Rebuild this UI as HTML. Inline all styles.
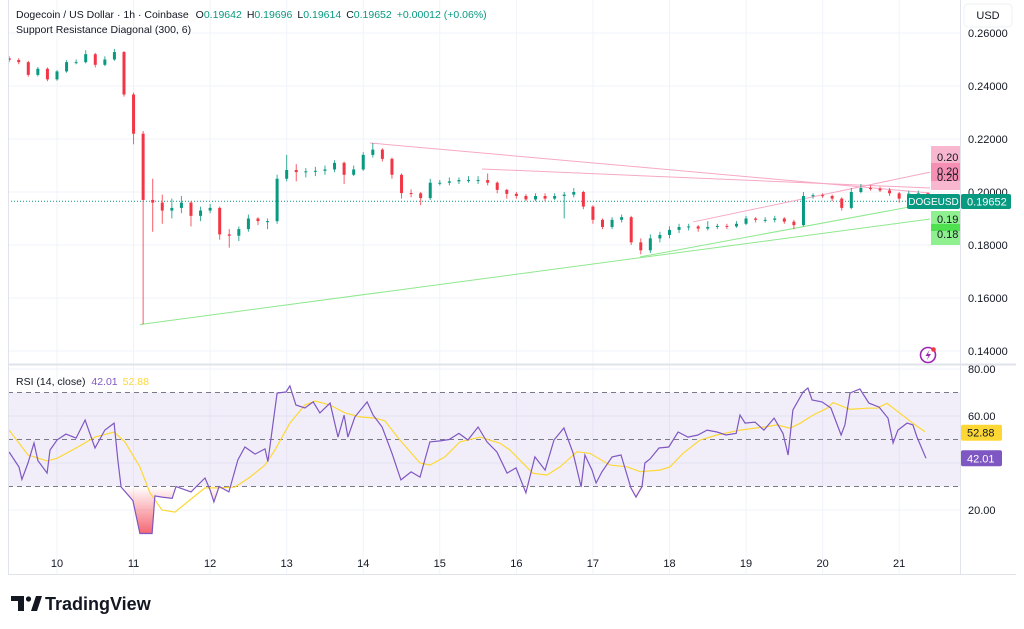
<!DOCTYPE html>
<html><head><meta charset="utf-8"><style>
html,body{margin:0;padding:0;background:#fff;width:1024px;height:629px;overflow:hidden;font-family:"Liberation Sans",sans-serif;}
svg text{font-family:"Liberation Sans",sans-serif;}
</style></head><body>
<svg id="chart" width="1024" height="629" viewBox="0 0 1024 629" xmlns="http://www.w3.org/2000/svg">
<defs>
<linearGradient id="osGrad" x1="0" y1="486.5" x2="0" y2="533" gradientUnits="userSpaceOnUse">
<stop offset="0" stop-color="#f23645" stop-opacity="0"/><stop offset="1" stop-color="#f23645" stop-opacity="0.75"/></linearGradient>
<clipPath id="belowOS"><rect x="8" y="486.5" width="952" height="60"/></clipPath>
<clipPath id="mainClip"><rect x="8" y="0" width="952" height="363"/></clipPath>
</defs>
<g id="grid"></g>
<g id="main" clip-path="url(#mainClip)"></g>
<g id="rsi"></g>
<g id="axes"></g>

<text x="16" y="18" font-size="10.5" fill="#131722">Dogecoin / US Dollar · 1h · Coinbase <tspan dx="4">O</tspan><tspan fill="#089981">0.19642</tspan><tspan dx="5">H</tspan><tspan fill="#089981">0.19696</tspan><tspan dx="5">L</tspan><tspan fill="#089981">0.19614</tspan><tspan dx="5">C</tspan><tspan fill="#089981">0.19652</tspan><tspan dx="5" fill="#089981">+0.00012 (+0.06%)</tspan></text>
<text x="16" y="33" font-size="10.5" fill="#131722">Support Resistance Diagonal (300, 6)</text>
<text x="16" y="385" font-size="10.5" fill="#131722">RSI (14, close) <tspan dx="3" fill="#7e57c2">42.01</tspan><tspan dx="5" fill="#fdd835">52.88</tspan></text>

<g>
<rect x="964" y="4" width="48" height="23" rx="4" fill="#fff" stroke="#eef0f4"/>
<text x="988" y="19" font-size="11" text-anchor="middle" fill="#131722">USD</text></g>

<g>
<circle cx="928" cy="355" r="7.5" fill="none" stroke="#9c27b0" stroke-width="1.6"/>
<path d="M929.5 350 L925.5 356 L928.5 356 L926.5 360.5 L931 354 L928 354 Z" fill="#9c27b0"/>
<circle cx="933.5" cy="349.5" r="2.3" fill="#f23645"/></g>

<g>
<path d="M11 596 H24 V611 H18 V601 H11 Z" fill="#131722"/>
<circle cx="28.5" cy="599" r="2.6" fill="#131722"/>
<path d="M31 611 L36 596 H42 L37 611 Z" fill="#131722"/>
<text x="45" y="610" font-size="18" font-weight="bold" fill="#131722">TradingView</text></g>

<script>
const days=[10,11,12,13,14,15,16,17,18,19,20,21];
const priceTicks=[0.26,0.24,0.22,0.20,0.18,0.16,0.14];
const rsiTicks=[80,60,20];
const closes=[0.2498,0.249,0.2442,0.2465,0.2425,0.2455,0.249,0.249,0.252,0.248,0.25,0.2528,0.2368,0.222,0.197,0.196,0.193,0.194,0.196,0.191,0.193,0.194,0.184,0.1835,0.186,0.19,0.189,0.189,0.205,0.2083,0.2075,0.2078,0.208,0.2085,0.211,0.2065,0.2085,0.214,0.216,0.2125,0.2065,0.1996,0.1995,0.1977,0.2035,0.2035,0.204,0.2045,0.2045,0.2045,0.2035,0.2008,0.1993,0.1985,0.1972,0.1985,0.1975,0.1985,0.199,0.2,0.1945,0.1895,0.1868,0.1895,0.1905,0.181,0.178,0.1825,0.1838,0.1857,0.1868,0.187,0.1862,0.1868,0.1872,0.187,0.188,0.19,0.1895,0.1895,0.19,0.1888,0.1875,0.1985,0.1988,0.1985,0.1975,0.194,0.2,0.2015,0.2012,0.2006,0.1995,0.1975,0.1994,0.1995,0.19652];
const highs=[0.2512,0.2505,0.2495,0.2472,0.247,0.246,0.2498,0.25,0.2535,0.2525,0.2512,0.254,0.2532,0.2375,0.223,0.205,0.199,0.1975,0.1985,0.1965,0.1945,0.1955,0.1945,0.186,0.187,0.1915,0.1905,0.19,0.2065,0.214,0.2105,0.209,0.2095,0.21,0.212,0.2115,0.21,0.215,0.2185,0.2165,0.213,0.207,0.201,0.2,0.205,0.2045,0.2055,0.2055,0.206,0.206,0.207,0.204,0.2012,0.2,0.1992,0.1995,0.1995,0.1995,0.2,0.2015,0.2005,0.195,0.19,0.1905,0.1915,0.191,0.1825,0.184,0.185,0.187,0.188,0.188,0.1875,0.189,0.188,0.188,0.189,0.191,0.1905,0.1905,0.191,0.1905,0.1895,0.2,0.1995,0.1995,0.199,0.198,0.2015,0.203,0.2025,0.202,0.2015,0.2,0.2005,0.2005,0.1998];
const lows=[0.249,0.2482,0.2435,0.2436,0.2418,0.242,0.245,0.2482,0.2485,0.247,0.2475,0.2495,0.236,0.218,0.15,0.185,0.188,0.19,0.192,0.187,0.189,0.192,0.182,0.179,0.1815,0.185,0.1875,0.186,0.188,0.204,0.204,0.2055,0.206,0.2065,0.2075,0.203,0.206,0.208,0.213,0.2115,0.205,0.1975,0.198,0.195,0.197,0.2025,0.2025,0.203,0.2035,0.203,0.2025,0.1995,0.1975,0.1975,0.1965,0.1965,0.1965,0.197,0.19,0.198,0.1935,0.188,0.186,0.186,0.1885,0.18,0.1765,0.177,0.181,0.1825,0.1845,0.1855,0.185,0.1855,0.186,0.186,0.1865,0.1875,0.1885,0.1885,0.1885,0.188,0.186,0.187,0.1975,0.1978,0.1965,0.193,0.1935,0.1995,0.2005,0.2,0.1985,0.196,0.197,0.1985,0.1961];
const firstOpen=0.2505;
const rsiHours=[-15,-11.9,-11,-9.1,-7.2,-6,-3.1,-2.2,0,2.8,6,8.8,11.9,15,17.9,19.1,20.1,23.8,26,29.8,30.7,32.9,36.1,37.3,42,44.8,46.4,48,49.2,50.8,53.9,56.7,58.9,62.1,65.2,66.1,69,71.8,73,74.9,77.7,80.3,82.4,85.6,88.1,90,91.2,93.4,95.9,97.2,99.1,101.9,105,107.8,111,113.8,116.9,120.1,122.9,126,128.8,132,134.8,137.9,141.1,143.9,147,149.8,153,155.8,158.9,161.8,164.3,165.5,167.7,169,170.8,174,176.8,179.9,181.5,183.4,184.3,185.9,188.7,191.8,194.7,197.8,200.9,203.8,206.9,209.7,212.9,214.1,215.7,218.8,221.6,224.8,227.6,229.2,230.7,233.9,235.4,236.7,239.8,242.6,245.8,247,248.6,251.7,254.5,257.7,260.5,262.1,263.6,266.5,268.3,269.6,272.4];
const rsiValues=[44.7,38.3,33,40,48.5,41,35.7,45.5,49.8,52.3,50.6,58.3,46.4,54,57,41,29.8,24,10,10,26,25.5,25,30,27.7,31.5,33.6,28.5,23.4,30,27.7,41.3,46.8,43.8,46,40.6,69.8,70.2,72.8,64.7,63.4,66,61.3,65.5,51,60.4,51,59.6,63.8,66,60.4,55.3,44.2,32.8,36.2,34,49,49.4,50,52.6,49.8,55.3,49,44.7,35.7,37.9,27.3,42.6,37,49.8,54.9,44.2,29.8,43.4,37,31.5,36.2,42.6,43.4,29.4,25.5,30,40,41.7,46.4,46.8,53.2,51,51.9,54,53.2,51.9,52.6,60.4,57,57.4,54,59.1,52.6,43.4,62.6,70.2,71.9,66.8,66,63.4,51.9,56.2,69.8,71.5,65.5,63.8,59.1,48.5,54,57,56.2,51,42];
const maHours=[-15,-9.1,-3.1,0,6,11.9,17.9,21.3,26,29.2,32.9,37,41.7,46.4,51.1,55.8,60.5,65.2,68.3,73,77.7,80.9,85.6,90.3,95,99.7,102.8,107.5,113.8,116.9,121.6,126.3,132.6,138.9,142,149.2,153.6,157.7,163,167.1,173.4,178.7,182.8,189,192.2,196.2,201.6,206.9,214.1,222.6,225.7,229.8,232.9,237,241.4,243.3,248.6,253.9,257.1,260.2,264.3,268.3,272.1];
const maValues=[54,43.4,40.9,42,46.4,51,53.2,49,38.3,27.2,20,19.1,24.3,29.4,29.4,29.8,34,39.1,45.5,57,64.7,66.4,64.7,61.3,59.6,59.1,57.9,49.8,40,39.1,42.6,49,51,48.4,45.5,35.6,34.9,38.4,44.8,44.1,39.1,38.4,36.3,37,38.4,44.1,49.8,51.9,54,55.5,56.2,54.8,56.9,60.4,63.3,65.7,62.8,63.3,63.3,65.4,61.1,56.9,53.3];
const resistLines=[[98.1,0.2185,273.7,0.1996],[133.2,0.2087,273.7,0.2015],[199.4,0.1887,273.7,0.2075]];
const supportLines=[[26,0.150,273.7,0.1898],[182.8,0.1755,273.7,0.1958]];
const lastPrice=0.19652, lastRsi=42.01, lastMa=52.88;

const NS='http://www.w3.org/2000/svg';
const xT=t=>57+t*3.19;
const yP=p=>192-(p-0.2)*2650;
const yR=v=>416-(v-60)*2.35;
function mk(tag,attrs,parent){const e=document.createElementNS(NS,tag);for(const k in attrs)e.setAttribute(k,attrs[k]);parent.appendChild(e);return e;}
const grid=document.getElementById('grid'),main=document.getElementById('main'),rsi=document.getElementById('rsi'),axes=document.getElementById('axes');

days.forEach(d=>{const x=xT((d-10)*24);
 const l=mk('line',{x1:x,x2:x,y1:0,y2:575,stroke:'#f0f3fa'},grid);
 
 
 const t=mk('text',{x:x,y:567,'font-size':11,'text-anchor':'middle',fill:'#131722'},axes);t.textContent=d;
 
 });
priceTicks.forEach(p=>{const y=yP(p);
 const l=mk('line',{x1:8,x2:960,y1:y,y2:y,stroke:'#f0f3fa'},grid);
 
 
 const t=mk('text',{x:968,y:y+4,'font-size':11,fill:'#131722'},axes);t.textContent=p.toFixed(5);
 
 });
[80,60,40,20].forEach(v=>{const y=yR(v);const l=mk('line',{x1:8,x2:960,y1:y,y2:y,stroke:'#f0f3fa'},grid);
 
 });
rsiTicks.forEach(v=>{const t=mk('text',{x:968,y:yR(v)+4,'font-size':11,fill:'#131722'},axes);t.textContent=v.toFixed(2);
 
 });
mk('line',{x1:8,x2:1016,y1:364.5,y2:364.5,stroke:'#e0e3eb','stroke-width':2},axes);
mk('line',{x1:8,x2:1016,y1:574.5,y2:574.5,stroke:'#e0e3eb'},axes);
mk('line',{x1:8.5,x2:8.5,y1:0,y2:575,stroke:'#e0e3eb'},axes);
mk('line',{x1:960.5,x2:960.5,y1:0,y2:575,stroke:'#e0e3eb'},axes);

const dl=mk('line',{x1:8,x2:906,y1:yP(lastPrice),y2:yP(lastPrice),stroke:'#089981','stroke-dasharray':'1 2'},main);



resistLines.forEach(r=>{const l=mk('line',{x1:xT(r[0]),y1:yP(r[1]),x2:xT(r[2]),y2:yP(r[3]),stroke:'#f7a8c4','stroke-width':1},main);
 
 });
supportLines.forEach(r=>{const l=mk('line',{x1:xT(r[0]),y1:yP(r[1]),x2:xT(r[2]),y2:yP(r[3]),stroke:'#8fe88f','stroke-width':1},main);
 
 });

closes.forEach((c,i)=>{const o=i?closes[i-1]:firstOpen;const x=xT(-15+3*i);const up=c>=o;const col=up?'#089981':'#f23645';
 const g=mk('g',{},main);
 
 
 mk('line',{x1:x,x2:x,y1:yP(highs[i]),y2:yP(lows[i]),stroke:col,'stroke-width':1,'stroke-opacity':0.8},g);
 const top=yP(Math.max(o,c)),bot=yP(Math.min(o,c));
 mk('rect',{x:x-1.5,y:top,width:3,height:Math.max(1,bot-top),fill:col},g);});

const pb=mk('g',{},axes);


mk('rect',{x:931,y:146,width:29,height:44,fill:'#f8b7ce'},pb);
mk('rect',{x:931,y:163,width:29,height:18,fill:'#f68fb4'},pb);
[[157,'0.20'],[171,'0.20'],[177,'0.20']].forEach(a=>{const t=mk('text',{x:937,y:a[0]+4,'font-size':11,fill:'#131722'},pb);t.textContent=a[1];});
const gb=mk('g',{},axes);


mk('rect',{x:931,y:211,width:29,height:34,fill:'#8ff08f'},gb);
mk('rect',{x:931,y:224,width:29,height:7,fill:'#4fe04f'},gb);
[[219,'0.19'],[234,'0.18']].forEach(a=>{const t=mk('text',{x:937,y:a[0]+4,'font-size':11,fill:'#131722'},gb);t.textContent=a[1];});
const sl=mk('g',{},axes);


mk('rect',{x:907,y:194,width:53,height:15,fill:'#089981',rx:2},sl);
let tt=mk('text',{x:933.5,y:205,'font-size':10,fill:'#fff','text-anchor':'middle'},sl);tt.textContent='DOGEUSD';
mk('rect',{x:961,y:194,width:50,height:15,fill:'#089981',rx:2},sl);
tt=mk('text',{x:967,y:205.5,'font-size':11,fill:'#fff'},sl);tt.textContent=lastPrice.toFixed(5);

const band=mk('rect',{x:8,y:yR(70),width:952,height:yR(30)-yR(70),fill:'#7e57c2','fill-opacity':0.1},rsi);


[70,50,30].forEach(v=>{const l=mk('line',{x1:8,x2:960,y1:yR(v),y2:yR(v),stroke:'#787b86','stroke-dasharray':'5 4','stroke-width':1},rsi);
 
 });
let pts=rsiHours.map((h,i)=>xT(h).toFixed(1)+','+yR(rsiValues[i]).toFixed(1));
const os=mk('polygon',{points:xT(rsiHours[0])+','+yR(30)+' '+pts.join(' ')+' '+xT(rsiHours[rsiHours.length-1])+','+yR(30),fill:'url(#osGrad)','clip-path':'url(#belowOS)'},rsi);


const maPts=maHours.map((h,i)=>xT(h).toFixed(1)+','+yR(maValues[i]).toFixed(1));
const ma=mk('polyline',{points:maPts.join(' '),fill:'none',stroke:'#fdd835','stroke-width':1.2},rsi);


const rl=mk('polyline',{points:pts.join(' '),fill:'none',stroke:'#7e57c2','stroke-width':1.2},rsi);


const mb=mk('g',{},axes);


mk('rect',{x:961,y:yR(lastMa)-8,width:41,height:16,fill:'#fdd835',rx:2},mb);
tt=mk('text',{x:967,y:yR(lastMa)+4,'font-size':11,fill:'#131722'},mb);tt.textContent=lastMa.toFixed(2);
const rb=mk('g',{},axes);


mk('rect',{x:961,y:yR(lastRsi)-8,width:41,height:16,fill:'#7e57c2',rx:2},rb);
tt=mk('text',{x:967,y:yR(lastRsi)+4,'font-size':11,fill:'#fff'},rb);tt.textContent=lastRsi.toFixed(2);
</script>
</svg>
</body></html>
